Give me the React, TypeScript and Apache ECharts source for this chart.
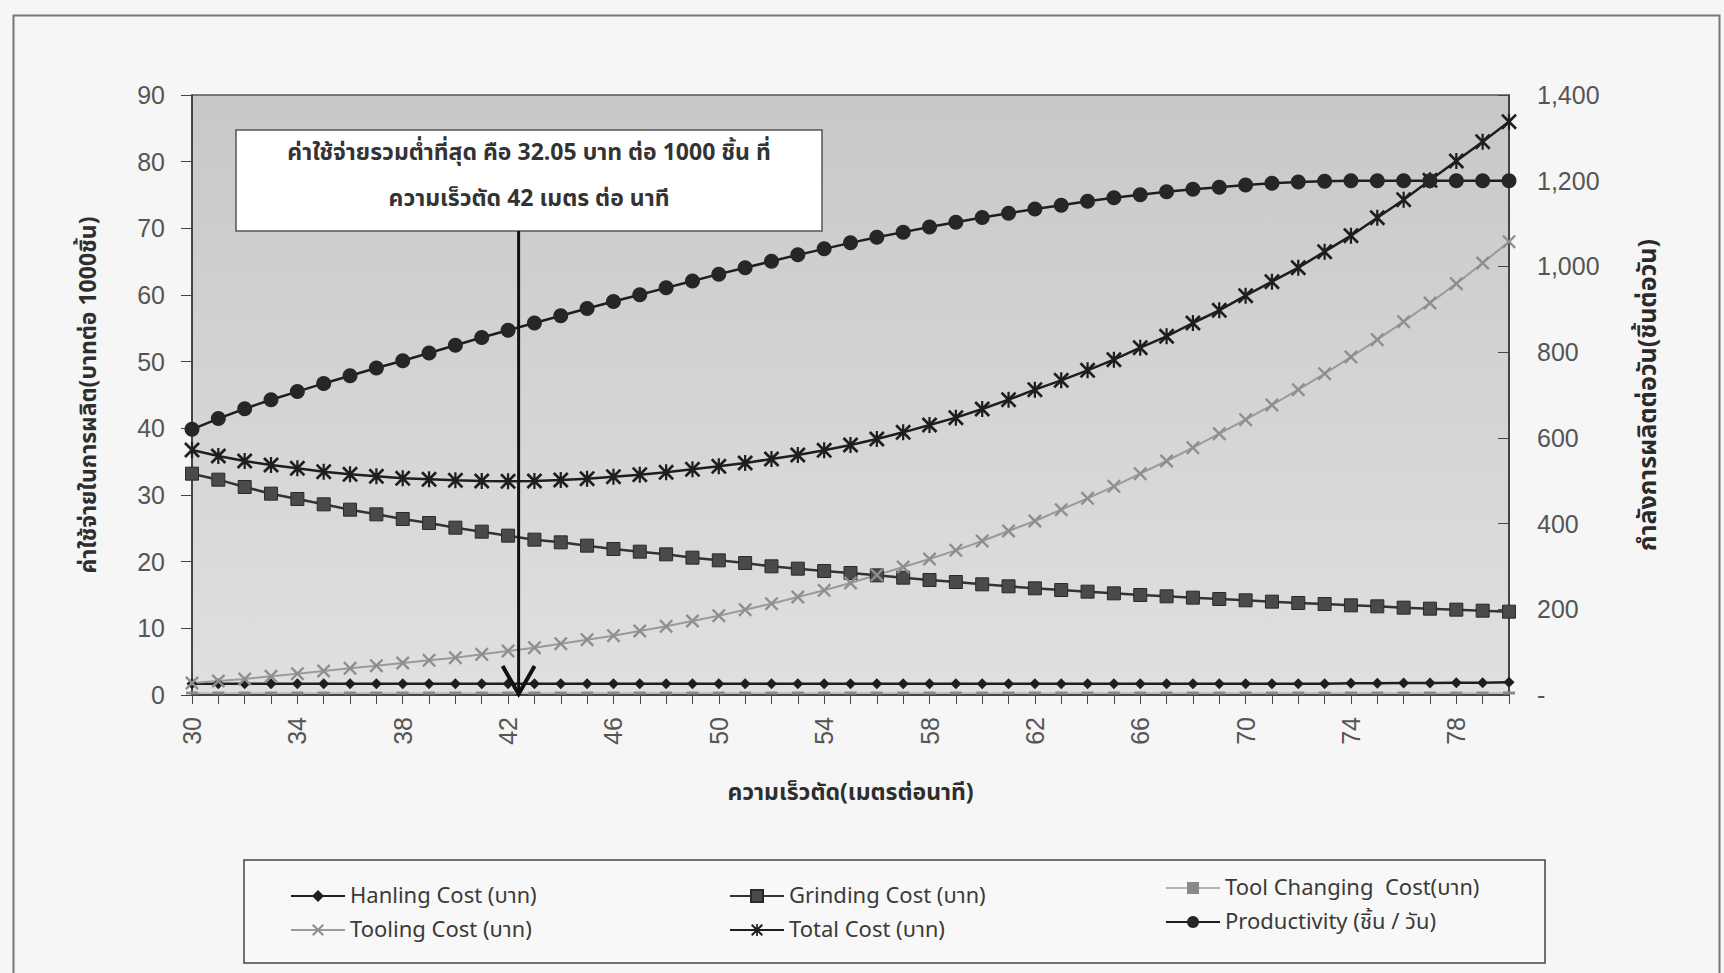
import React, { useEffect, useRef } from 'react';
import * as echarts from 'echarts';

// ---------------- data ----------------
const speeds = [30, 31, 32, 33, 34, 35, 36, 37, 38, 39, 40, 41, 42, 43, 44, 45, 46, 47, 48, 49, 50, 51, 52, 53, 54, 55, 56, 57, 58, 59, 60, 61, 62, 63, 64, 65, 66, 67, 68, 69, 70, 71, 72, 73, 74, 75, 76, 77, 78, 79, 80];

const handlingCost = [1.7, 1.7, 1.7, 1.7, 1.7, 1.7, 1.7, 1.7, 1.7, 1.7, 1.7, 1.7, 1.7, 1.7, 1.7, 1.7, 1.7, 1.7, 1.7, 1.7, 1.7, 1.7, 1.7, 1.7, 1.7, 1.7, 1.7, 1.7, 1.7, 1.7, 1.7, 1.7, 1.7, 1.7, 1.7, 1.7, 1.7, 1.7, 1.7, 1.7, 1.7, 1.7, 1.7, 1.7, 1.75, 1.75, 1.8, 1.8, 1.85, 1.85, 1.9];

const grindingCost = [33.2, 32.3, 31.2, 30.2, 29.4, 28.6, 27.8, 27.1, 26.4, 25.8, 25.1, 24.5, 23.9, 23.3, 22.9, 22.4, 21.9, 21.5, 21.1, 20.6, 20.2, 19.8, 19.3, 18.95, 18.6, 18.3, 17.95, 17.6, 17.25, 16.95, 16.6, 16.3, 16.0, 15.75, 15.5, 15.25, 15.0, 14.8, 14.6, 14.4, 14.2, 14.0, 13.8, 13.65, 13.45, 13.3, 13.1, 12.95, 12.8, 12.65, 12.5];

const toolChangingCost = [0.3, 0.3, 0.3, 0.3, 0.3, 0.3, 0.3, 0.3, 0.3, 0.3, 0.3, 0.3, 0.3, 0.3, 0.3, 0.3, 0.3, 0.3, 0.3, 0.3, 0.3, 0.3, 0.3, 0.3, 0.3, 0.3, 0.3, 0.3, 0.3, 0.3, 0.3, 0.3, 0.3, 0.3, 0.3, 0.3, 0.3, 0.3, 0.3, 0.3, 0.3, 0.3, 0.3, 0.3, 0.3, 0.3, 0.3, 0.3, 0.3, 0.3, 0.3];

const toolingCost = [1.8, 2.1, 2.4, 2.8, 3.2, 3.6, 4.0, 4.4, 4.8, 5.2, 5.6, 6.1, 6.6, 7.1, 7.7, 8.3, 8.9, 9.6, 10.3, 11.1, 11.9, 12.8, 13.7, 14.7, 15.7, 16.8, 18.0, 19.2, 20.4, 21.7, 23.1, 24.6, 26.1, 27.8, 29.5, 31.3, 33.2, 35.1, 37.1, 39.2, 41.3, 43.5, 45.8, 48.2, 50.7, 53.3, 56.0, 58.8, 61.7, 64.8, 68.0];

const totalCost = [36.75, 35.85, 35.1, 34.5, 34.0, 33.5, 33.1, 32.8, 32.5, 32.35, 32.2, 32.1, 32.05, 32.1, 32.25, 32.45, 32.75, 33.05, 33.4, 33.85, 34.3, 34.8, 35.4, 36.0, 36.7, 37.5, 38.4, 39.4, 40.5, 41.6, 42.9, 44.3, 45.8, 47.2, 48.7, 50.3, 52.1, 53.8, 55.8, 57.7, 59.9, 62.0, 64.1, 66.5, 68.9, 71.6, 74.3, 77.2, 80.1, 83.0, 86.0];

const productivity = [620, 645, 668, 689, 708, 727, 745, 763, 780, 798, 816, 834, 851, 868, 885, 902, 918, 934, 950, 966, 982, 997, 1012, 1027, 1041, 1055, 1068, 1080, 1092, 1103, 1114, 1124, 1134, 1143, 1152, 1160, 1167, 1174, 1180, 1185, 1190, 1194, 1197, 1199, 1200, 1200, 1200, 1200, 1200, 1200, 1200];

const xTickLabels = [30, 34, 38, 42, 46, 50, 54, 58, 62, 66, 70, 74, 78];

const seriesNames = [
  'Hanling Cost (บาท)',
  'Grinding Cost (บาท)',
  'Tool Changing  Cost(บาท)',
  'Tooling Cost (บาท)',
  'Total Cost (บาท)',
  'Productivity (ชิ้น / วัน)',
];

const leftAxisTitle = 'ค่าใช้จ่ายในการผลิต(บาทต่อ 1000ชิ้น)';
const rightAxisTitle = 'กำลังการผลิตต่อวัน(ชิ้นต่อวัน)';
const xAxisTitle = 'ความเร็วตัด(เมตรต่อนาที)';
const noteLines = [
  'ค่าใช้จ่ายรวมต่ำที่สุด คือ 32.05 บาท ต่อ 1000 ชิ้น ที่',
  'ความเร็วตัด 42 เมตร ต่อ นาที',
];
const arrowSpeed = 42.4;

// ---------------- styling ----------------
const THAI = "'Noto Sans Thai','Noto Sans','DejaVu Sans',sans-serif";
const NUM = "'Liberation Sans',Arial,sans-serif";

const X_SYMBOL = 'path://M0,1.2 L1.2,0 L5,3.8 L8.8,0 L10,1.2 L6.2,5 L10,8.8 L8.8,10 L5,6.2 L1.2,10 L0,8.8 L3.8,5 Z';
const STAR_SYMBOL = 'path://M0,1.2 L1.2,0 L5,3.8 L8.8,0 L10,1.2 L6.2,5 L10,8.8 L8.8,10 L5,6.2 L1.2,10 L0,8.8 L3.8,5 Z M4.3,0 L5.7,0 L5.7,10 L4.3,10 Z';
const DASH_SYMBOL = 'path://M0,0 L10,0 L10,2 L0,2 Z';

const pairs = (ys: number[]) => speeds.map((s, i) => [s, ys[i]]);

export default function App() {
  const ref = useRef<HTMLDivElement>(null);

  useEffect(() => {
    if (!ref.current) return;
    const chart = echarts.init(ref.current, null, { renderer: 'svg' });

    const legendText = { fontFamily: THAI, fontSize: 22, color: '#3a3a3a' };
    const legendCommon = {
      orient: 'vertical' as const,
      top: 880,
      itemGap: 12,
      itemWidth: 54,
      itemHeight: 15,
      textStyle: legendText,
      selectedMode: false,
    };

    const option: any = {
      animation: false,
      backgroundColor: '#f6f6f6',
      grid: {
        left: 192,
        right: 215,
        top: 95,
        bottom: 278,
        show: true,
        backgroundColor: new echarts.graphic.LinearGradient(0, 0, 0, 1, [
          { offset: 0, color: '#c8c8c8' },
          { offset: 0.5, color: '#d4d4d4' },
          { offset: 1, color: '#e0e0e0' },
        ]),
        borderColor: '#555',
        borderWidth: 1.5,
      },
      legend: [
        { ...legendCommon, left: 285, data: [seriesNames[0], seriesNames[3]] },
        { ...legendCommon, left: 724, data: [seriesNames[1], seriesNames[4]] },
        { ...legendCommon, left: 1160, top: 872, data: [seriesNames[2], seriesNames[5]] },
      ],
      xAxis: {
        type: 'value',
        min: 30,
        max: 80,
        interval: 1,
        name: xAxisTitle,
        nameLocation: 'middle',
        nameGap: 86,
        nameTextStyle: { fontFamily: THAI, fontSize: 23, color: '#2e2e2e', fontWeight: 'bold' },
        axisLine: { show: true, onZero: false, lineStyle: { color: '#333', width: 1.5 } },
        axisTick: { show: true, length: 9, lineStyle: { color: '#444' } },
        axisLabel: {
          rotate: 90,
          margin: 22,
          fontFamily: NUM,
          fontSize: 25,
          color: '#555',
          formatter: (v: number) => (xTickLabels.includes(v) ? String(v) : ''),
        },
        splitLine: { show: false },
      },
      yAxis: [
        {
          type: 'value',
          min: 0,
          max: 90,
          interval: 10,
          name: leftAxisTitle,
          nameLocation: 'middle',
          nameRotate: 90,
          nameGap: 92,
          nameTextStyle: { fontFamily: THAI, fontSize: 23, color: '#2e2e2e', fontWeight: 'bold' },
          axisLine: { show: true, lineStyle: { color: '#333', width: 1.5 } },
          axisTick: { show: true, length: 11, lineStyle: { color: '#444' } },
          axisLabel: { fontFamily: NUM, fontSize: 25, color: '#555', margin: 27 },
          splitLine: { show: false },
        },
        {
          type: 'value',
          min: 0,
          max: 1400,
          interval: 200,
          name: rightAxisTitle,
          nameLocation: 'middle',
          nameRotate: 90,
          nameGap: 126,
          nameTextStyle: { fontFamily: THAI, fontSize: 25, color: '#2a2a2a', fontWeight: 'bold' },
          axisLine: { show: true, lineStyle: { color: '#333', width: 1.5 } },
          axisTick: { show: true, inside: true, length: 11, lineStyle: { color: '#444' } },
          axisLabel: {
            fontFamily: NUM,
            fontSize: 25,
            color: '#555',
            margin: 28,
            formatter: (v: number) => (v === 0 ? '-' : v.toLocaleString('en-US')),
          },
          splitLine: { show: false },
        },
      ],
      series: [
        {
          name: seriesNames[0],
          type: 'line',
          data: pairs(handlingCost),
          symbol: 'diamond',
          symbolSize: 11,
          lineStyle: { color: '#1e1e1e', width: 2.5 },
          itemStyle: { color: '#1e1e1e' },
          z: 3,
        },
        {
          name: seriesNames[1],
          type: 'line',
          data: pairs(grindingCost),
          symbol: 'rect',
          symbolSize: 13,
          lineStyle: { color: '#333', width: 2.5 },
          itemStyle: { color: '#4a4a4a', borderColor: '#2a2a2a', borderWidth: 1 },
          z: 3,
        },
        {
          name: seriesNames[2],
          type: 'line',
          data: pairs(toolChangingCost),
          symbol: DASH_SYMBOL,
          symbolSize: [12, 3],
          lineStyle: { color: '#b4b4b4', width: 1.5 },
          itemStyle: { color: '#8a8a8a' },
          z: 2,
        },
        {
          name: seriesNames[3],
          type: 'line',
          data: pairs(toolingCost),
          symbol: X_SYMBOL,
          symbolSize: 14,
          lineStyle: { color: '#9a9a9a', width: 2 },
          itemStyle: { color: '#8e8e8e' },
          z: 3,
        },
        {
          name: seriesNames[4],
          type: 'line',
          data: pairs(totalCost),
          symbol: STAR_SYMBOL,
          symbolSize: 16,
          lineStyle: { color: '#1e1e1e', width: 2.5 },
          itemStyle: { color: '#1e1e1e' },
          z: 4,
        },
        {
          name: seriesNames[5],
          type: 'line',
          yAxisIndex: 1,
          data: pairs(productivity),
          symbol: 'circle',
          symbolSize: 15,
          lineStyle: { color: '#1e1e1e', width: 2.5 },
          itemStyle: { color: '#262626' },
          z: 4,
        },
      ],
    };

    chart.setOption(option);

    // annotation: text box and arrow placed through the axes' own scales
    const base = chart.convertToPixel({ xAxisIndex: 0, yAxisIndex: 0 }, [arrowSpeed, 0]) as number[];
    const boxX = 236;
    const boxY = 130;
    const boxW = 586;
    const boxH = 101;
    const ax = base[0];
    const ay = base[1];
    chart.setOption({
      graphic: [
        {
          type: 'rect',
          left: 11,
          top: 13,
          shape: { width: 1706, height: 980 },
          style: { fill: 'none', stroke: '#777', lineWidth: 2 },
          silent: true,
          z: 0,
        },
        {
          type: 'rect',
          shape: { x: boxX, y: boxY, width: boxW, height: boxH },
          style: { fill: '#ffffff', stroke: '#555', lineWidth: 1.5 },
          z: 100,
        },
        {
          type: 'text',
          x: boxX + boxW / 2,
          y: boxY + 23,
          style: {
            text: noteLines[0],
            fontFamily: THAI,
            fontSize: 23,
            fontWeight: 'bold',
            fill: '#333',
            align: 'center',
            verticalAlign: 'middle',
          },
          z: 101,
        },
        {
          type: 'text',
          x: boxX + boxW / 2,
          y: boxY + 69,
          style: {
            text: noteLines[1],
            fontFamily: THAI,
            fontSize: 23,
            fontWeight: 'bold',
            fill: '#333',
            align: 'center',
            verticalAlign: 'middle',
          },
          z: 101,
        },
        {
          type: 'line',
          shape: { x1: ax, y1: boxY + boxH, x2: ax, y2: ay },
          style: { stroke: '#111', lineWidth: 3 },
          z: 100,
        },
        {
          type: 'polyline',
          shape: { points: [[ax - 16, ay - 29], [ax, ay - 1], [ax + 16, ay - 29]] },
          style: { stroke: '#111', lineWidth: 4, fill: 'none' },
          z: 100,
        },
        {
          type: 'rect',
          shape: { x: 244, y: 860, width: 1301, height: 103 },
          style: { fill: '#f8f8f8', stroke: '#444', lineWidth: 1.5 },
          z: -1,
        },
      ],
    });

    return () => chart.dispose();
  }, []);

  return (
    <div
      ref={ref}
      style={{ position: 'absolute', left: 0, top: 0, width: 1724, height: 973 }}
    />
  );
}
